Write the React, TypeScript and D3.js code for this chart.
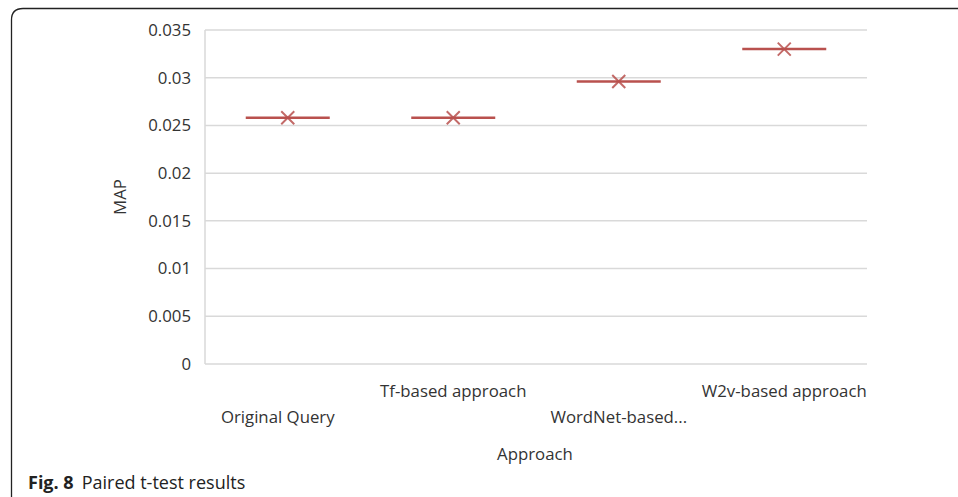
import React from "react";
import * as d3 from "d3";

const categories = ["Original Query", "Tf-based approach", "WordNet-based...", "W2v-based approach"];
const mapValues = [0.0258, 0.0258, 0.0296, 0.033];
const yTicks = [0, 0.005, 0.01, 0.015, 0.02, 0.025, 0.03, 0.035];
const yTickLabels = ["0", "0.005", "0.01", "0.015", "0.02", "0.025", "0.03", "0.035"];
const labelRow = [1, 0, 1, 0];

const W = 958;
const H = 497;
const plot = { left: 205, right: 867, top: 30, bottom: 364 };
const font = "'Open Sans', 'Noto Sans', sans-serif";
const markColor = "#b9514e";
const fs = 16.8;

export default function App() {
  const x = d3.scaleBand<string>().domain(categories).range([plot.left, plot.right]);
  const y = d3.scaleLinear().domain([0, 0.035]).range([plot.bottom, plot.top]);
  const half = 42;
  const m = 6.5;
  return (
    <svg width={W} height={H} style={{ position: "absolute", left: 0, top: 0, background: "#fff" }}>
      <rect x={0} y={0} width={W} height={H} fill="#fff" />
      <path d={`M11.5,${H} L11.5,20 Q11.5,8.5 23,8.5 L${W},8.5`} fill="none" stroke="#222" strokeWidth={1.3} />
      {yTicks.map((t, i) => (
        <g key={i}>
          <line x1={plot.left} x2={plot.right} y1={y(t)} y2={y(t)} stroke="#d9d9d9" strokeWidth={1.5} />
          <text x={191} y={y(t)} dy="0.35em" textAnchor="end" fontFamily={font} fontSize={fs} fill="#333">
            {yTickLabels[i]}
          </text>
        </g>
      ))}
      <line x1={plot.left} x2={plot.left} y1={plot.top} y2={plot.bottom} stroke="#d9d9d9" strokeWidth={1.5} />
      {categories.map((c, i) => {
        const cx = (x(c) as number) + x.bandwidth() / 2;
        const cy = y(mapValues[i]);
        return (
          <g key={c}>
            <line x1={cx - half} x2={cx + half} y1={cy} y2={cy} stroke={markColor} strokeWidth={2.5} />
            <path d={`M${cx - m},${cy - m}L${cx + m},${cy + m}M${cx - m},${cy + m}L${cx + m},${cy - m}`} stroke={markColor} strokeWidth={2} opacity={0.85} />
            <text x={cx - (i === 0 ? 10 : 0)} y={labelRow[i] ? 417 : 391} dy="0.35em" textAnchor="middle" fontFamily={font} fontSize={fs} fill="#333">
              {c}
            </text>
          </g>
        );
      })}
      <text x={535} y={454} dy="0.35em" textAnchor="middle" fontFamily={font} fontSize={fs} fill="#333">Approach</text>
      <text transform={`translate(120,${(plot.top + plot.bottom) / 2}) rotate(-90)`} dy="0.35em" textAnchor="middle" fontFamily={font} fontSize={fs} fill="#333">MAP</text>
      <text x={28} y={483} dy="0.35em" fontFamily={font} fontSize={18} fill="#222">
        <tspan fontWeight="bold">Fig. 8</tspan>
        <tspan dx={8}>Paired t-test results</tspan>
      </text>
    </svg>
  );
}
